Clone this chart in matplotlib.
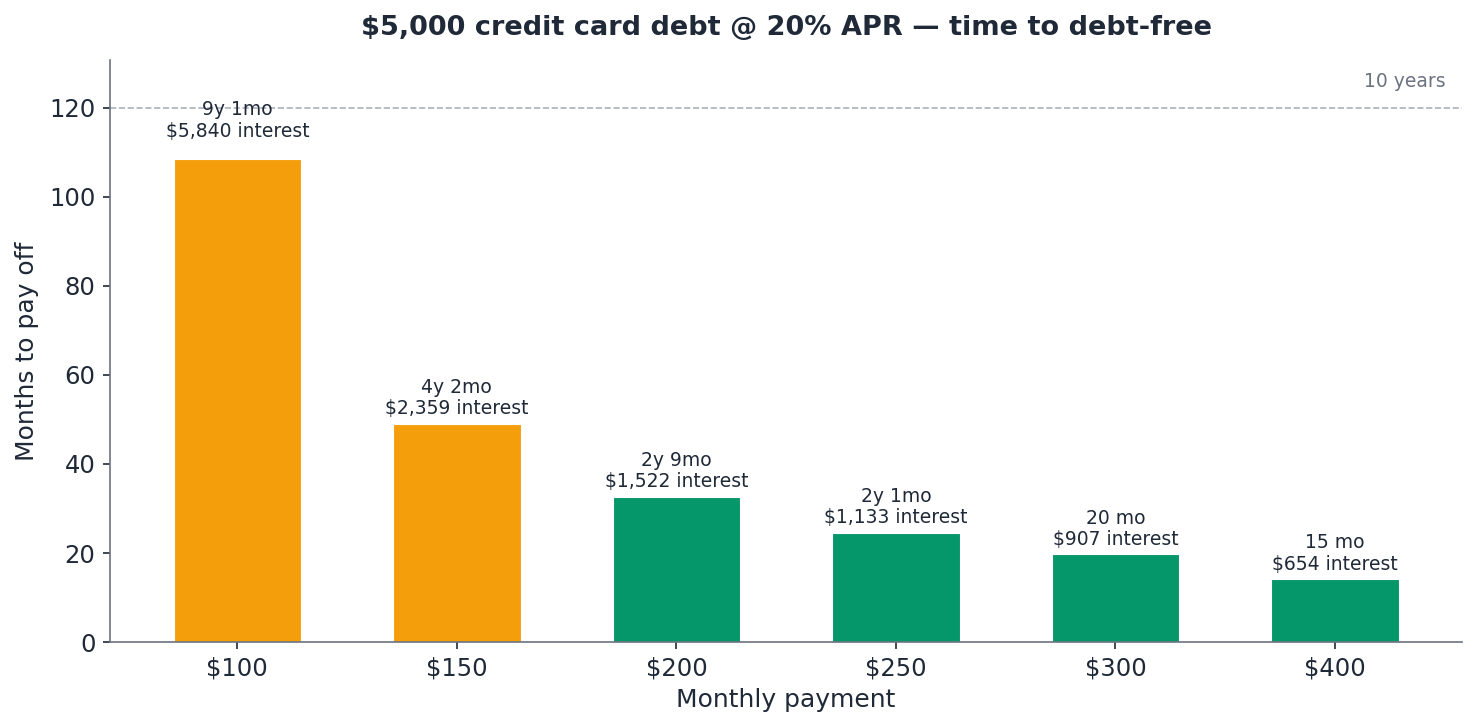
import numpy as np
import matplotlib.pyplot as plt

payments = ["$100", "$150", "$200", "$250", "$300", "$400"]
months = [108.4, 49.06, 32.61, 24.53, 19.69, 14.13]
duration_labels = ["9y 1mo", "4y 2mo", "2y 9mo", "2y 1mo", "20 mo", "15 mo"]
interest_labels = ["$5,840", "$2,359", "$1,522", "$1,133", "$907", "$654"]
slow = [True, True, False, False, False, False]

ORANGE = "#f59e0b"
GREEN = "#059669"
DARK = "#1f2937"
GRAY = "#6b7280"

fig = plt.figure(figsize=(14.77, 7.28), dpi=100)
ax = fig.add_axes([0.0745, 0.118, 0.9155, 0.8])

x = np.arange(len(payments))
colors = [ORANGE if s else GREEN for s in slow]
bars = ax.bar(x, months, width=0.58, color=colors, edgecolor="white", linewidth=0.8)

for b, d, i in zip(bars, duration_labels, interest_labels):
    h = b.get_height()
    # tall bar: push label up a bit more, clear of the 10 year line
    off = 13.5 if h > 100 else 4
    ax.annotate(f"{d}\n{i} interest", (b.get_x() + b.get_width() / 2, h),
                xytext=(0, off), textcoords="offset points", ha="center", va="bottom",
                fontsize=13.5, color=DARK, linespacing=1.15)

ax.axhline(120, color="#9ca3af", linestyle="--", linewidth=1.2, alpha=0.85, zorder=0)
ax.annotate("10 years", (0.988, 120), xycoords=("axes fraction", "data"),
            xytext=(0, 12), textcoords="offset points", ha="right", va="bottom",
            fontsize=13.5, color=GRAY)

ax.set_xlim(-0.58, len(payments) - 1 + 0.58)
ax.set_ylim(0, 130.8)
ax.set_xticks(x)
ax.set_xticklabels(payments)
ax.tick_params(axis="both", labelsize=17.5, colors=DARK, length=5, width=1.2, pad=5.5)
for side in ("top", "right"):
    ax.spines[side].set_visible(False)
for side in ("left", "bottom"):
    ax.spines[side].set_color(GRAY)
    ax.spines[side].set_linewidth(1.2)

ax.set_xlabel("Monthly payment", fontsize=18, color=DARK, labelpad=5)
ax.set_ylabel("Months to pay off", fontsize=18, color=DARK, labelpad=7)
ax.set_title("$5,000 credit card debt @ 20% APR — time to debt-free",
             fontsize=19.5, fontweight="bold", color=DARK, pad=18)

fig.savefig("out.png", dpi=100)
